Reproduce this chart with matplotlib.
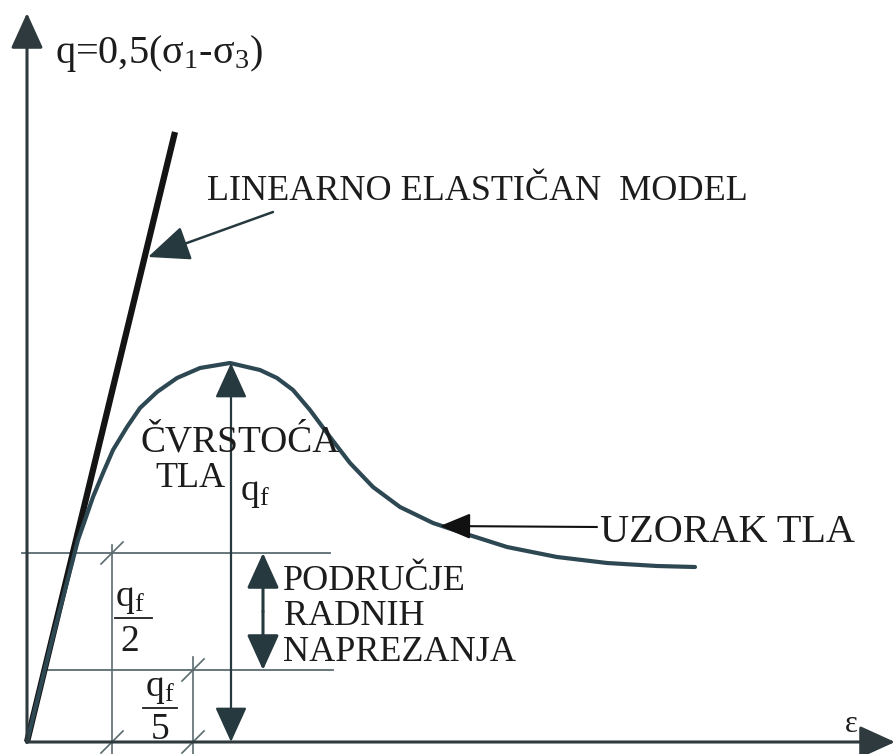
import matplotlib
matplotlib.use("Agg")
import matplotlib.pyplot as plt

plt.rcParams["font.family"] = ["Liberation Serif", "DejaVu Serif"]
plt.rcParams["mathtext.fontset"] = "custom"
plt.rcParams["mathtext.rm"] = "Liberation Serif"
plt.rcParams["mathtext.it"] = "Liberation Serif"

# soil sample curve (strain, q)
soil_eps = [0, 25, 51, 58, 66, 76, 86, 100, 113, 130, 150, 173, 203, 233, 250,
            266, 283, 303, 323, 346, 373, 406, 436, 480, 530, 580, 630, 668]
soil_q = [0, 102, 202, 222, 245, 269, 292, 315, 334, 350, 364, 374, 379, 372,
          364, 352, 332, 305, 279, 255, 235, 219, 209, 195, 185, 179, 176, 175]

# linear elastic model
lin_eps = [0, 148]
lin_q = [0, 610]

q_peak_eps = 204
q_peak = 379
half_level = 189
fifth_level = 72

half_dim_eps = 85
fifth_dim_eps = 166
work_arrow_eps = 236

dark = "#26393e"
curve_col = "#2d4852"
thin_col = "#5b6b70"
txt = "#1c1c1c"

fig = plt.figure(figsize=(8.96, 7.54), dpi=100)
ax = fig.add_axes([0, 0, 1, 1])
ax.set_xlim(-27, 869)
ax.set_ylim(-12, 742)
ax.axis("off")


def arrow(x0, y0, x1, y1, lw=1.5, hl=2.2, hw=1.0, color=dark):
    ax.annotate("", xy=(x1, y1), xytext=(x0, y0),
                arrowprops=dict(arrowstyle=f"-|>,head_length={hl},head_width={hw}",
                                mutation_scale=10, lw=lw, color=color,
                                shrinkA=0, shrinkB=0))


# axes
arrow(0, 0, 0, 729, lw=2.2, color="#2e3a3d")
arrow(0, 0, 868, 0, lw=2.2, color="#2e3a3d")

# level lines
ax.plot([-5, 303], [half_level, half_level], color=thin_col, lw=1.3)
ax.plot([16, 306], [fifth_level, fifth_level], color=thin_col, lw=1.3)

# dimension lines with slashes
ax.plot([half_dim_eps, half_dim_eps], [-12, half_level + 8], color=thin_col, lw=1.2)
ax.plot([fifth_dim_eps, fifth_dim_eps], [-12, fifth_level + 13], color=thin_col, lw=1.2)
for ex, ey in [(half_dim_eps, half_level), (half_dim_eps, 0),
               (fifth_dim_eps, fifth_level), (fifth_dim_eps, 0)]:
    ax.plot([ex - 11, ex + 11], [ey - 11, ey + 11], color=thin_col, lw=1.2)

# curves
ax.plot(lin_eps, lin_q, color="#141414", lw=4.5, solid_capstyle="butt")
ax.plot(soil_eps, soil_q, color=curve_col, lw=3, solid_joinstyle="round",
        solid_capstyle="round")

# q_f double arrow
arrow(q_peak_eps, 190, q_peak_eps, q_peak, lw=1.6)
arrow(q_peak_eps, 190, q_peak_eps, 0, lw=1.6)
# working stress double arrow
mid = (half_level + fifth_level) / 2
arrow(work_arrow_eps, mid, work_arrow_eps, half_level, lw=2.2)
arrow(work_arrow_eps, mid, work_arrow_eps, fifth_level, lw=2.2)

# pointer arrows
arrow(246, 530, 121, 485, lw=1.8, hl=2.6, hw=1.1)
arrow(570, 215, 413, 216, lw=1.5, hl=1.9, hw=0.8, color="#111111")

fs = 27
ax.text(28, 679, r"q=0,5($\mathrm{\sigma_1}$-$\mathrm{\sigma_3}$)", fontsize=29,
        va="baseline", ha="left", color=txt)
ax.text(180, 542, "LINEARNO ELASTIČAN  MODEL", fontsize=26, va="baseline",
        ha="left", color=txt)
ax.text(113, 290, "ČVRSTOĆA", fontsize=27, va="baseline", ha="left", color=txt)
ax.text(128, 255, "TLA", fontsize=26, va="baseline", ha="left", color=txt)
ax.text(213, 242, r"$\mathrm{q_f}$", fontsize=fs, va="baseline", ha="left",
        color=txt)
ax.text(573, 200, "UZORAK TLA", fontsize=29, va="baseline", ha="left", color=txt)
ax.text(256, 152, "PODRUČJE", fontsize=fs - 1, va="baseline", ha="left", color=txt)
ax.text(257, 117, "RADNIH", fontsize=fs - 1, va="baseline", ha="left", color=txt)
ax.text(256, 81, "NAPREZANJA", fontsize=fs - 1, va="baseline", ha="left", color=txt)
ax.text(818, 10, "ε", fontsize=22, va="baseline", ha="left", color=txt)

# fractions
ax.text(103, 126, r"$\mathrm{q_f}$", fontsize=fs, va="bottom", ha="center",
        color=txt)
ax.plot([88, 125], [124, 124], color=txt, lw=1.3)
ax.text(103, 91, "2", fontsize=fs, va="baseline", ha="center", color=txt)
ax.text(133, 36, r"$\mathrm{q_f}$", fontsize=fs, va="bottom", ha="center",
        color=txt)
ax.plot([116, 150], [34, 34], color=txt, lw=1.3)
ax.text(133, 3, "5", fontsize=fs, va="baseline", ha="center", color=txt)

fig.savefig("out.png", dpi=100, facecolor="white")
